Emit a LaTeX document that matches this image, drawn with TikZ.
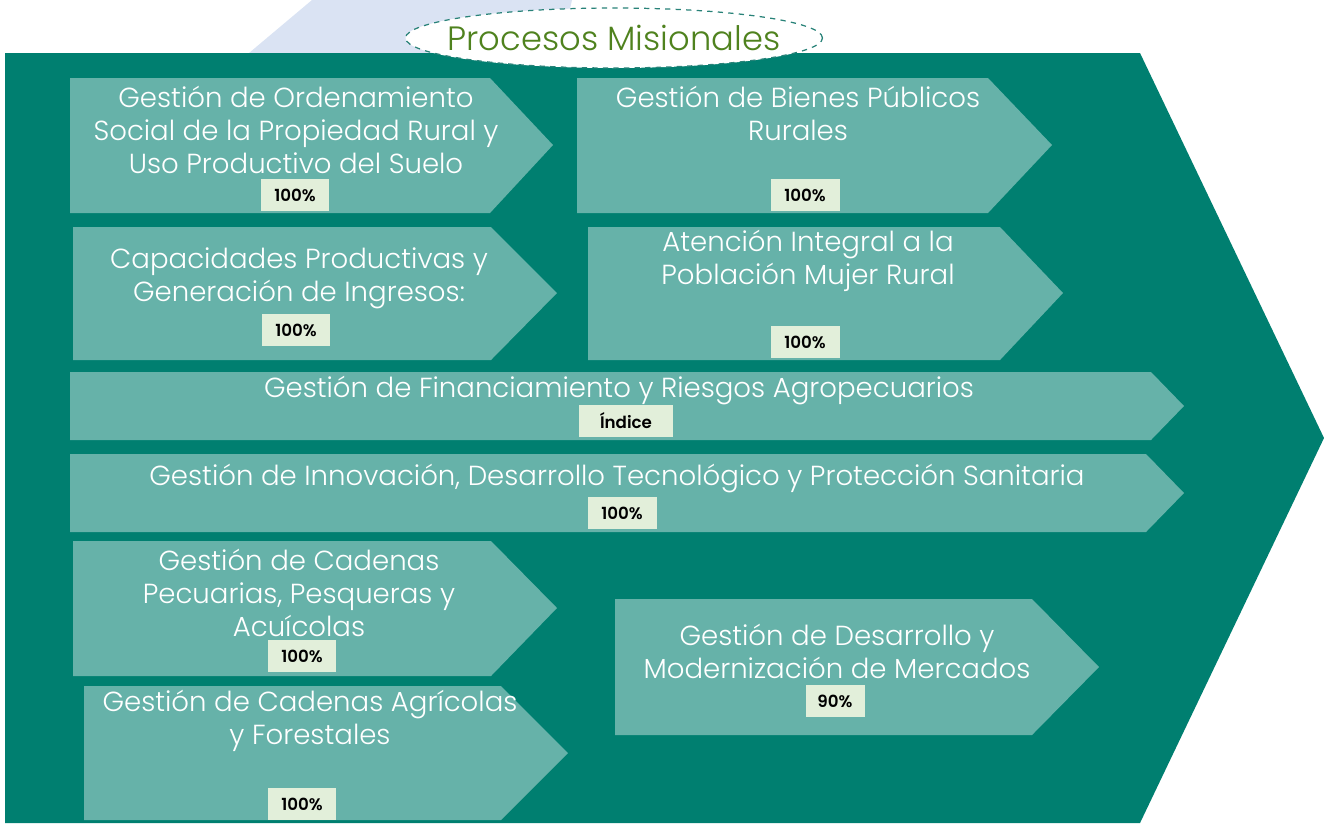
\documentclass[tikz,border=0pt]{standalone}
\usepackage{fontspec}
\setmainfont{Poppins}[UprightFont=* Light, BoldFont=* SemiBold]
\usepackage{xcolor}
\usetikzlibrary{positioning,shapes.geometric}

\definecolor{fondoteal}{RGB}{0,127,112}
\definecolor{cajateal}{RGB}{102,178,169}
\definecolor{pctverde}{RGB}{226,239,218}
\definecolor{lavanda}{RGB}{218,227,243}
\definecolor{titverde}{RGB}{79,130,30}
\definecolor{bordeteal}{RGB}{40,130,120}

\tikzset{
	procfill/.style={fill=cajateal},
	proctext/.style={text=white, align=center, inner sep=0pt,
		font=\fontsize{15.7}{18.7}\selectfont},
	pct/.style={fill=pctverde, text=black, inner sep=0pt,
		minimum width=1.38cm, minimum height=0.64cm,
		font=\bfseries\fontsize{9.5}{10}\selectfont},
	titulo/.style={ellipse, draw=bordeteal, dashed, line width=0.7pt, fill=white,
		minimum width=8.34cm, minimum height=1.2cm, inner sep=0pt},
	tittext/.style={text=titverde, inner sep=0pt, font=\fontsize{19.2}{21}\selectfont}
}

\begin{document}
\begin{tikzpicture}[x=0.02cm,y=-0.02cm]
	\useasboundingbox (0,0) rectangle (1324,823);
	\clip (0,0) rectangle (1324,823);
	% fondo
	\fill[lavanda] (249,53) -- (312,0) -- (572,0) -- (560,53) -- cycle;
	\fill[fondoteal] (5,53) -- (1140,53) -- (1324,438) -- (1140,823) -- (5,823) -- cycle;
	% flechas de procesos
	\fill[procfill] (70,78) -- (490,78) -- (553,145) -- (490,213) -- (70,213) -- cycle;
	\fill[procfill] (577,78) -- (988,78) -- (1052,145) -- (988,213) -- (577,213) -- cycle;
	\fill[procfill] (73,227) -- (491,227) -- (557,293) -- (491,360) -- (73,360) -- cycle;
	\fill[procfill] (588,227) -- (1000,227) -- (1063,293) -- (1000,360) -- (588,360) -- cycle;
	\fill[procfill] (70,372) -- (1151,372) -- (1184,406) -- (1151,440) -- (70,440) -- cycle;
	\fill[procfill] (70,454) -- (1146,454) -- (1184,493) -- (1146,532) -- (70,532) -- cycle;
	\fill[procfill] (73,541) -- (491,541) -- (557,608) -- (491,676) -- (73,676) -- cycle;
	\fill[procfill] (84,686) -- (501,686) -- (568,753) -- (501,820) -- (84,820) -- cycle;
	\fill[procfill] (615,599) -- (1032,599) -- (1099,667) -- (1032,735) -- (615,735) -- cycle;
	% titulo
	\node[titulo] (tit) at (614,38) {};
	\node[tittext] (tittxt) at (tit.center) {Procesos Misionales};
	% textos
	\node[proctext] (ordtxt) at (296,130) {Gestión de Ordenamiento\\Social de la Propiedad Rural y\\Uso Productivo del Suelo};
	\node[proctext] (bientxt) at (798,113) {Gestión de Bienes Públicos\\Rurales};
	\node[proctext] (captxt) at (299,278) {Capacidades Productivas y\\Generación de Ingresos:};
	\node[proctext] (mujtxt) at (808,261) {Atención Integral a la\\Población Mujer Rural};
	\node[proctext] (fintxt) at (619,390) {Gestión de Financiamiento y Riesgos Agropecuarios};
	\node[proctext] (innotxt) at (617,478) {Gestión de Innovación, Desarrollo Tecnológico y Protección Sanitaria};
	\node[proctext] (pectxt) at (299,593) {Gestión de Cadenas\\Pecuarias, Pesqueras y\\Acuícolas};
	\node[proctext] (agrtxt) at (310,721) {Gestión de Cadenas Agrícolas\\y Forestales};
	\node[proctext] (mertxt) at (837,651) {Gestión de Desarrollo y\\Modernización de Mercados};
	% indicadores
	\node[pct] (ordpct) at (295,195) {100\%};
	\node[pct] (bienpct) at (805,195) {100\%};
	\node[pct] (cappct) at (296,330) {100\%};
	\node[pct] (mujpct) at (805,342) {100\%};
	\node[pct, minimum width=1.88cm] (finpct) at (626,421) {Índice};
	\node[pct] (innopct) at (622,513) {100\%};
	\node[pct] (pecpct) at (302,656) {100\%};
	\node[pct] (agrpct) at (302,804) {100\%};
	\node[pct, minimum width=1.18cm] (merpct) at (835,701) {90\%};
\end{tikzpicture}
\end{document}
